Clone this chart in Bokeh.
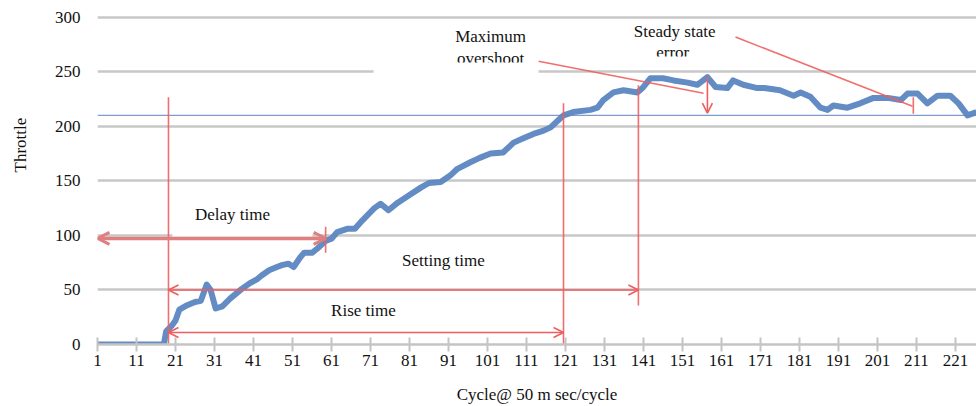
import math
from bokeh.plotting import figure
from bokeh.models import Range1d, FixedTicker, Span, Arrow, OpenHead, Title
from bokeh.core.properties import value
from bokeh.embed import file_html
from bokeh.resources import INLINE

# ---- data ----
cycle = [1, 18, 18.6, 20, 21, 22, 24, 26, 27.5, 29, 30, 31.3, 33, 35, 37, 38, 40, 42, 43, 45,
         47, 48.5, 50, 51.3, 53, 54, 56, 57.4, 59.5, 61, 62.5, 65, 67, 69, 72, 73.6, 75.6, 78,
         81, 84, 86, 89, 91.5, 93.3, 96.6, 99, 101.8, 105, 107.7, 110.2, 112.8, 115.4, 117.2,
         119, 120.5, 123, 127.4, 129.2, 130.7, 133.3, 135.9, 139.5, 141, 142.8, 146, 148.7,
         152.3, 154.8, 157.4, 159.5, 162.5, 164, 166.6, 170.2, 172, 176, 179.5, 181.3, 183.8,
         186.4, 188.2, 189.7, 193.3, 196.6, 200, 203.6, 207, 208.7, 211.3, 213.8, 216.4,
         219.7, 221.8, 224.1, 226.4]
throttle = [0, 0, 12, 17, 22, 32, 36, 39, 40, 55, 50, 33, 35, 42, 48, 51, 56, 60, 63, 68,
            71, 73, 74, 71, 80, 84, 84, 88, 95, 97, 103, 106, 106, 114, 125, 129, 123, 130,
            137, 144, 148, 149, 155, 161, 167, 171, 175, 176, 185, 189, 193, 196, 199,
            205, 210, 213, 215, 217, 224, 231, 233, 231, 236, 244, 244, 242,
            240, 238, 245, 236, 235, 242, 238, 235, 235, 233, 228, 231, 227,
            217, 215, 219, 217, 221, 226, 226, 224, 230, 230, 221, 228,
            228, 221, 210, 213]
setpoint = 210
x_ticks = list(range(1, 222, 10))
y_ticks = [0, 50, 100, 150, 200, 250, 300]

# annotation markers (cycle / throttle positions)
delay_start, rise_end, settle_end, delay_mark = 19.2, 120.5, 139.7, 59.5
overshoot_x, steady_x = 157.4, 210.2

FONT = value("Liberation Serif")
RED = "#ee5e5e"
TXT = "#111111"

p = figure(width=976, height=406, output_backend="svg", toolbar_location=None,
           x_range=Range1d(1, 226.4), y_range=Range1d(0, 301.5),
           min_border_left=97, min_border_right=0, min_border_top=15, min_border_bottom=62)
p.outline_line_color = None
p.background_fill_color = "white"

# grid
p.xgrid.grid_line_color = None
p.ygrid.ticker = FixedTicker(ticks=y_ticks)
p.ygrid.grid_line_color = "#c8c8c8"
p.ygrid.grid_line_width = 2.5

# x axis
p.xaxis.ticker = FixedTicker(ticks=x_ticks)
p.xaxis.axis_line_color = "#c4c4c4"
p.xaxis.axis_line_width = 2.5
p.xaxis.major_tick_line_color = "#c4c4c4"
p.xaxis.major_tick_line_width = 2
p.xaxis.major_tick_in = 7
p.xaxis.major_tick_out = 7
p.xaxis.minor_tick_line_color = None
p.xaxis.major_label_standoff = 3
p.xaxis.major_label_text_font = "Liberation Serif"
p.xaxis.major_label_text_font_size = "17px"
p.xaxis.major_label_text_color = TXT
p.xaxis.axis_label = "Cycle@ 50 m sec/cycle"
p.xaxis.axis_label_text_font = "Liberation Serif"
p.xaxis.axis_label_text_font_size = "17px"
p.xaxis.axis_label_text_font_style = "normal"
p.xaxis.axis_label_text_color = TXT
p.xaxis.axis_label_standoff = 16

# y axis
p.yaxis.ticker = FixedTicker(ticks=y_ticks)
p.yaxis.axis_line_color = None
p.yaxis.major_tick_line_color = None
p.yaxis.minor_tick_line_color = None
p.yaxis.major_label_standoff = 11
p.yaxis.major_label_text_font = "Liberation Serif"
p.yaxis.major_label_text_font_size = "17px"
p.yaxis.major_label_text_color = TXT
p.yaxis.axis_label = "\u00a0"
p.yaxis.axis_label_text_font_size = "7px"
p.yaxis.axis_label_standoff = 7

p.add_layout(Title(text="Throttle", align="left", offset=172,
                   text_font="Liberation Serif", text_font_size="17px",
                   text_font_style="normal", text_color=TXT), "left")

# setpoint line (under the curve)
p.add_layout(Span(location=setpoint, dimension="width", line_color="#7e9ccb",
                  line_width=1.3, level="underlay"))

# white box behind "Delay time"
p.quad(left=[20.2], right=[56.1], bottom=[98.8], top=[139.4], fill_color="white", line_color=None)

# annotation texts
p.text(x=[35.6, 89.7, 69.2, 101.8, 101.8, 149.0, 148.5],
       y=[119.3, 77, 31.2, 282.6, 262.0, 287.2, 267.5],
       text=["Delay time", "Setting time", "Rise time", "Maximum", "overshoot",
             "Steady state", "error"],
       text_font=FONT, text_font_size="17px", text_align="center",
       text_baseline="middle", text_color=TXT)

# white strips that cut the lower part of the two-line labels
p.quad(left=[71.8, 135.1], right=[114.1, 164.6], bottom=[247.5, 254], top=[258.5, 264],
       fill_color="white", line_color=None)

# throttle curve
p.line(cycle, throttle, line_color="#5b86c1", line_width=6, line_join="round", line_alpha=0.95)

# red markers
p.segment(x0=[delay_start, rise_end, settle_end, delay_mark, 114.1, 164.6, steady_x],
          y0=[0, 0, 35.8, 84, 259.6, 281.7, 226.6],
          x1=[delay_start, rise_end, settle_end, delay_mark, 156.4, 210.0, steady_x],
          y1=[226.6, 221, 237.6, 108, 230.3, 218.3, 211.5],
          line_color=RED, line_width=1.6, line_alpha=0.9)

# arrows
p.add_layout(Arrow(x_start=delay_mark, y_start=97.2, x_end=1, y_end=97.2,
                   line_color="#e07f7f", line_width=3.5,
                   start=OpenHead(size=12, line_color="#e07f7f", line_width=3),
                   end=OpenHead(size=12, line_color="#e07f7f", line_width=3)))
p.add_layout(Arrow(x_start=delay_start, y_start=50, x_end=settle_end, y_end=50,
                   line_color=RED, line_width=1.6,
                   start=OpenHead(size=10, line_color=RED, line_width=1.6),
                   end=OpenHead(size=10, line_color=RED, line_width=1.6)))
p.add_layout(Arrow(x_start=delay_start, y_start=11, x_end=rise_end, y_end=11,
                   line_color=RED, line_width=1.6,
                   start=OpenHead(size=10, line_color=RED, line_width=1.6),
                   end=OpenHead(size=10, line_color=RED, line_width=1.6)))
p.add_layout(Arrow(x_start=overshoot_x, y_start=245, x_end=overshoot_x, y_end=212,
                   line_color=RED, line_width=1.6,
                   end=OpenHead(size=10, line_color=RED, line_width=1.6)))

open("out.html", "w").write(file_html(p, INLINE))
